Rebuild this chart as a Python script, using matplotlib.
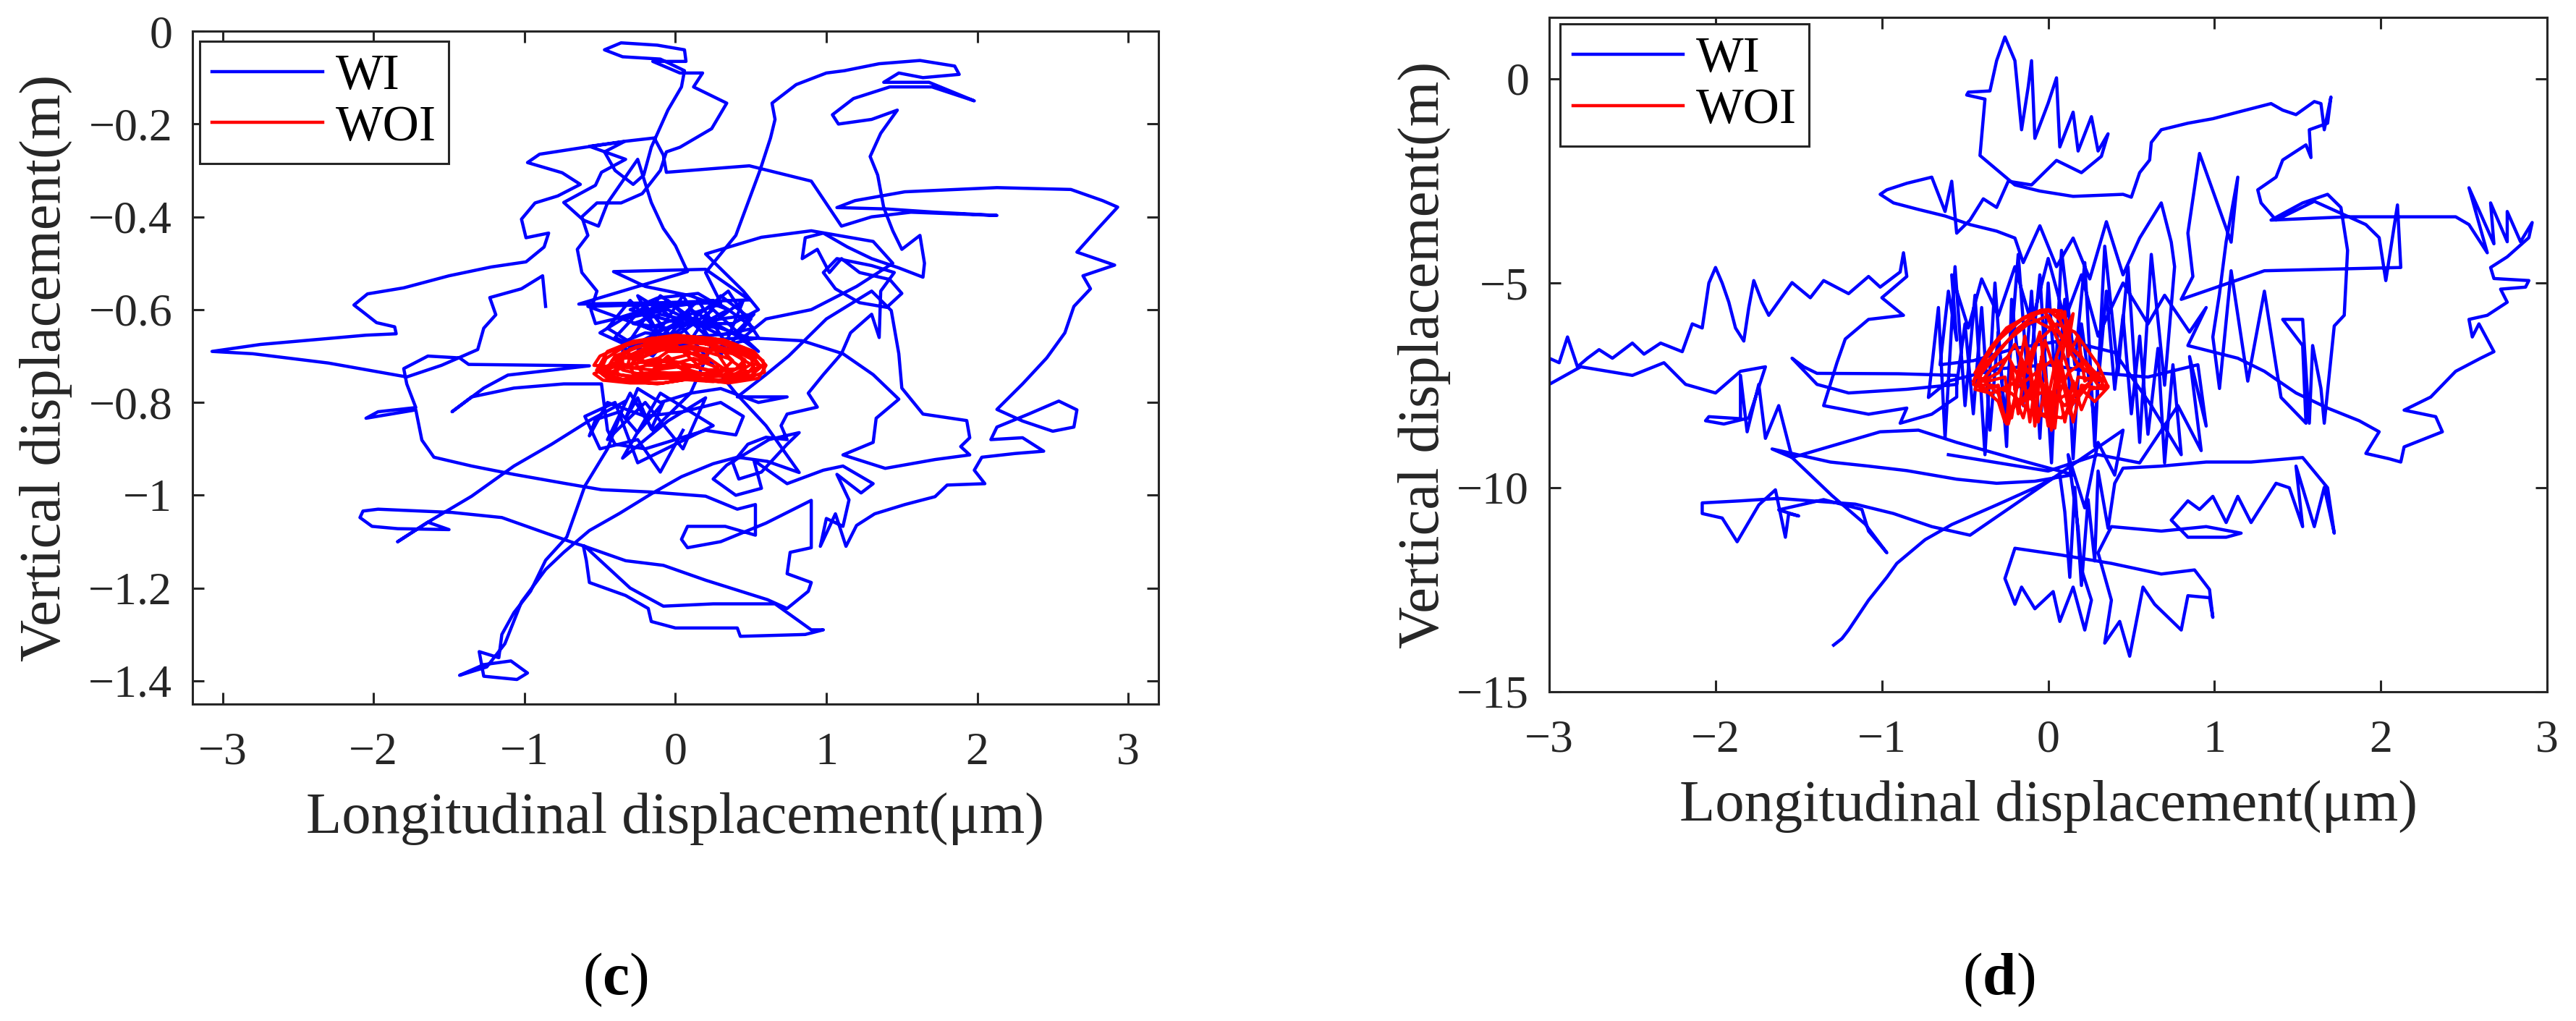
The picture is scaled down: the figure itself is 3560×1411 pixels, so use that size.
import numpy as np
import matplotlib
matplotlib.use('Agg')
import matplotlib.pyplot as plt

plt.rcParams['font.family'] = ['Liberation Serif', 'DejaVu Serif']
plt.rcParams['mathtext.fontset'] = 'custom'
plt.rcParams['mathtext.rm'] = 'Liberation Serif'
plt.rcParams['mathtext.bf'] = 'Liberation Serif:bold'

AX_COLOR = '#262626'

# ---------------- data ----------------
# (c) trajectory with isolator (WI), x in um, y in m
wi_c = np.array([
    (-0.86, -0.593), (-0.88, -0.527), (-1.02, -0.555), (-1.23, -0.574), (-1.19, -0.611), (-1.27, -0.64),
    (-1.31, -0.686), (-1.55, -0.72), (-1.78, -0.745), (-2.30, -0.715), (-2.80, -0.695), (-3.07, -0.69),
    (-2.75, -0.675), (-2.40, -0.665), (-2.05, -0.655), (-1.85, -0.652), (-1.86, -0.637), (-1.98, -0.628),
    (-2.07, -0.605), (-2.13, -0.59), (-2.04, -0.566), (-1.80, -0.553), (-1.50, -0.527), (-1.22, -0.508),
    (-0.99, -0.497), (-0.87, -0.465), (-0.84, -0.435), (-0.99, -0.445), (-1.02, -0.405), (-0.93, -0.37),
    (-0.78, -0.355), (-0.63, -0.33), (-0.75, -0.305), (-0.98, -0.283), (-0.90, -0.265), (-0.60, -0.25),
    (-0.34, -0.238), (-0.47, -0.26), (-0.40, -0.30), (-0.28, -0.33), (-0.21, -0.31), (-0.16, -0.25),
    (-0.05, -0.17), (0.04, -0.12), (0.06, -0.085), (-0.10, -0.06), (-0.35, -0.055), (-0.47, -0.04),
    (-0.36, -0.025), (-0.12, -0.03), (0.06, -0.04), (0.07, -0.065), (-0.15, -0.065), (0.03, -0.09),
    (0.18, -0.09), (0.12, -0.12), (0.34, -0.155), (0.24, -0.21), (0.03, -0.25), (-0.06, -0.26),
    (-0.10, -0.30), (-0.22, -0.35), (-0.36, -0.37), (-0.52, -0.37), (-0.62, -0.40), (-0.58, -0.44),
    (-0.65, -0.47), (-0.62, -0.52), (-0.52, -0.56), (-0.56, -0.60), (-0.53, -0.63), (-0.40, -0.62),
    (-0.20, -0.60), (0.05, -0.59), (0.25, -0.58), (0.35, -0.60), (0.18, -0.63), (-0.10, -0.61),
    (-0.28, -0.63), (-0.05, -0.64), (0.30, -0.62), (0.52, -0.61), (0.40, -0.65), (0.10, -0.66),
    (-0.20, -0.65), (-0.35, -0.67), (-0.10, -0.68), (0.25, -0.665), (0.48, -0.66), (0.30, -0.64),
    (-0.02, -0.625), (-0.30, -0.60), (-0.12, -0.575), (0.15, -0.565), (0.28, -0.59), (0.05, -0.615),
    (-0.18, -0.64), (-0.58, -0.593), (0.30, -0.585), (0.20, -0.52), (0.40, -0.44), (0.48, -0.37),
    (0.56, -0.30), (0.63, -0.23), (0.66, -0.19), (0.64, -0.155), (0.80, -0.115), (1.00, -0.09),
    (1.12, -0.085), (1.35, -0.07), (1.62, -0.063), (1.85, -0.075), (1.88, -0.093), (1.64, -0.10),
    (1.48, -0.09), (1.38, -0.11), (1.68, -0.11), (1.98, -0.15), (1.70, -0.12), (1.42, -0.12),
    (1.18, -0.145), (1.04, -0.18), (1.08, -0.20), (1.30, -0.19), (1.47, -0.17), (1.36, -0.22),
    (1.29, -0.27), (1.34, -0.31), (1.38, -0.38), (1.44, -0.43), (1.50, -0.47), (1.58, -0.45),
    (1.62, -0.44), (1.65, -0.50), (1.64, -0.53), (1.48, -0.51), (1.30, -0.49), (1.14, -0.465),
    (0.98, -0.435), (0.86, -0.445), (0.84, -0.49), (0.94, -0.47), (1.02, -0.52), (1.10, -0.49),
    (1.22, -0.52), (1.42, -0.535), (1.50, -0.565), (1.40, -0.595), (1.22, -0.585), (1.06, -0.555),
    (0.98, -0.52), (1.07, -0.49), (1.30, -0.505), (1.45, -0.52), (1.36, -0.56), (1.35, -0.66),
    (1.30, -0.61), (1.16, -0.65), (1.10, -0.695), (0.98, -0.74), (0.88, -0.78), (0.94, -0.81),
    (0.74, -0.825), (0.70, -0.85), (0.74, -0.88), (0.60, -0.875), (0.48, -0.89), (0.38, -0.93),
    (0.42, -0.965), (0.57, -0.95), (0.74, -0.89), (0.82, -0.865), (0.62, -0.88), (0.34, -0.935),
    (0.25, -0.965), (0.40, -1.00), (0.57, -0.985), (0.52, -0.925), (0.74, -0.975), (0.98, -0.946),
    (1.11, -0.937), (1.31, -0.975), (1.23, -0.995), (1.07, -0.955), (1.15, -1.01), (1.11, -1.067),
    (1.00, -1.05), (0.96, -1.11), (1.06, -1.04), (1.13, -1.11), (1.20, -1.065), (1.32, -1.04),
    (1.52, -1.02), (1.72, -1.003), (1.80, -0.978), (2.05, -0.975), (1.98, -0.946), (2.03, -0.918),
    (2.25, -0.91), (2.44, -0.905), (2.30, -0.876), (2.09, -0.88), (2.13, -0.853), (2.34, -0.825),
    (2.54, -0.797), (2.66, -0.816), (2.64, -0.853), (2.50, -0.862), (2.30, -0.84), (2.13, -0.815),
    (2.30, -0.76), (2.46, -0.704), (2.58, -0.65), (2.64, -0.593), (2.75, -0.555), (2.70, -0.527),
    (2.91, -0.504), (2.66, -0.476), (2.80, -0.425), (2.93, -0.379), (2.83, -0.365), (2.62, -0.341),
    (2.13, -0.337), (1.52, -0.346), (1.19, -0.365), (1.07, -0.38), (1.40, -0.383), (1.72, -0.39),
    (2.13, -0.397), (1.56, -0.39), (1.30, -0.40), (1.10, -0.42), (0.90, -0.323), (0.49, -0.29),
    (0.29, -0.295), (-0.06, -0.304), (-0.08, -0.267), (-0.14, -0.23), (-0.33, -0.237), (-0.57, -0.248),
    (-0.33, -0.276), (-0.49, -0.304), (-0.53, -0.332), (-0.74, -0.369), (-0.61, -0.407), (-0.51, -0.42),
    (-0.45, -0.37), (-0.25, -0.276), (-0.16, -0.369), (-0.08, -0.425), (0.0, -0.462), (0.08, -0.518),
    (-0.64, -0.588), (-0.10, -0.585), (0.49, -0.579), (0.20, -0.513), (-0.41, -0.518), (-0.20, -0.55),
    (0.10, -0.57), (0.35, -0.60), (0.52, -0.64), (0.30, -0.655), (-0.05, -0.60), (-0.35, -0.62),
    (-0.50, -0.65), (-0.30, -0.68), (0.0, -0.63), (0.38, -0.63), (0.55, -0.60), (0.45, -0.56),
    (0.20, -0.48), (0.57, -0.444), (0.90, -0.43), (1.31, -0.453), (1.44, -0.50), (1.20, -0.55),
    (0.90, -0.60), (0.60, -0.62), (0.45, -0.66), (0.84, -0.667), (1.11, -0.695), (1.31, -0.74),
    (1.48, -0.793), (1.33, -0.834), (1.31, -0.886), (1.11, -0.913), (1.39, -0.942), (1.72, -0.923),
    (1.95, -0.913), (1.89, -0.895), (1.95, -0.876), (1.93, -0.839), (1.64, -0.825), (1.50, -0.769),
    (1.48, -0.695), (1.43, -0.602), (1.30, -0.56), (1.00, -0.62), (0.75, -0.70), (0.60, -0.74),
    (0.41, -0.788), (0.74, -0.788), (0.55, -0.80), (0.30, -0.77), (0.10, -0.78), (-0.10, -0.80),
    (-0.25, -0.77), (-0.33, -0.834), (-0.25, -0.79), (-0.16, -0.857), (-0.08, -0.80), (-0.25, -0.865),
    (-0.37, -0.82), (-0.53, -0.837), (-0.57, -0.872), (-0.45, -0.80), (-0.20, -0.83), (0.05, -0.82),
    (0.30, -0.80), (0.45, -0.83), (0.40, -0.87), (0.20, -0.86), (0.00, -0.88), (-0.20, -0.90),
    (-0.40, -0.89), (-0.45, -0.86), (-0.49, -0.76), (-0.74, -0.76), (-1.07, -0.769), (-1.35, -0.788),
    (-1.48, -0.82), (-1.27, -0.769), (-1.11, -0.741), (-0.57, -0.721), (-1.37, -0.718), (-1.43, -0.704),
    (-1.64, -0.70), (-1.80, -0.727), (-1.78, -0.76), (-1.72, -0.811), (-1.97, -0.82), (-2.05, -0.834),
    (-1.72, -0.816), (-1.68, -0.881), (-1.60, -0.918), (-1.35, -0.937), (-1.07, -0.955), (-0.74, -0.974),
    (-0.49, -0.988), (-0.16, -0.993), (0.20, -1.002), (0.41, -1.03), (0.53, -1.02), (0.53, -1.086),
    (0.33, -1.067), (0.08, -1.067), (0.04, -1.095), (0.08, -1.113), (0.30, -1.10), (0.60, -1.06),
    (0.90, -1.011), (0.90, -1.113), (0.76, -1.123), (0.74, -1.169), (0.90, -1.188), (0.88, -1.207),
    (0.74, -1.244), (0.61, -1.225), (0.20, -1.183), (-0.08, -1.151), (-0.33, -1.141), (-0.61, -1.109),
    (-0.59, -1.141), (-0.57, -1.188), (-0.33, -1.216), (-0.18, -1.244), (-0.16, -1.272), (0.0, -1.286),
    (0.41, -1.286), (0.43, -1.304), (0.86, -1.30), (0.98, -1.29), (0.90, -1.29), (0.66, -1.234),
    (0.25, -1.234), (-0.08, -1.239), (-0.30, -1.20), (-0.60, -1.11), (-0.66, -1.104), (-0.82, -1.086),
    (-1.15, -1.048), (-1.48, -1.037), (-1.97, -1.03), (-2.07, -1.034), (-2.09, -1.048), (-2.01, -1.067),
    (-1.84, -1.072), (-1.50, -1.074), (-1.64, -1.058), (-1.84, -1.10), (-1.64, -1.058), (-1.35, -1.002),
    (-1.07, -0.937), (-0.82, -0.89), (-0.57, -0.839), (-0.33, -0.797), (-0.45, -0.90), (-0.60, -0.98),
    (-0.72, -1.09), (-0.86, -1.14), (-0.96, -1.207), (-1.07, -1.253), (-1.15, -1.30), (-1.17, -1.35),
    (-1.30, -1.337), (-1.27, -1.39), (-1.05, -1.397), (-0.98, -1.383), (-1.09, -1.357), (-1.27, -1.365),
    (-1.43, -1.388), (-1.25, -1.37), (-1.13, -1.32), (-1.02, -1.23), (-0.86, -1.16), (-0.74, -1.123),
    (-0.57, -1.076), (-0.37, -1.039), (-0.16, -0.997), (0.04, -0.96), (0.25, -0.932), (0.41, -0.918),
    (0.61, -0.927), (0.82, -0.951), (0.60, -0.85), (0.40, -0.78), (0.20, -0.70), (0.0, -0.62),
    (-0.25, -0.57), (-0.10, -0.66), (0.15, -0.58), (0.35, -0.68), (0.50, -0.62), (0.30, -0.57),
    (0.05, -0.69), (-0.20, -0.59), (-0.40, -0.66), (-0.15, -0.70), (0.10, -0.60), (0.40, -0.655),
    (0.55, -0.69), (0.25, -0.60), (-0.05, -0.67), (-0.30, -0.58), (-0.45, -0.64), (-0.20, -0.69),
    (0.05, -0.57), (0.30, -0.70), (0.45, -0.58), (0.20, -0.64), (-0.10, -0.57), (-0.35, -0.69),
    (0.0, -0.65), (0.35, -0.56), (0.55, -0.66), (0.15, -0.69), (-0.25, -0.63), (-0.05, -0.58),
    (0.25, -0.67), (0.10, -0.78), (-0.15, -0.86), (-0.30, -0.78), (-0.45, -0.88), (-0.20, -0.80),
    (0.05, -0.90), (0.20, -0.79), (-0.05, -0.84), (-0.35, -0.92), (-0.10, -0.78), (0.25, -0.85),
    (-0.25, -0.93), (-0.40, -0.80), (-0.60, -0.83), (-0.50, -0.90), (-0.25, -0.88), (-0.10, -0.95),
    (0.05, -0.86),
])

# (c) trajectory without isolator (WOI)
woi_c = np.array([
    (-0.52, -0.73), (-0.45, -0.69), (-0.28, -0.668), (0.0, -0.655), (0.25, -0.662), (0.45, -0.682),
    (0.58, -0.71), (0.59, -0.735), (0.45, -0.75), (0.20, -0.752), (0.0, -0.742), (-0.25, -0.755),
    (-0.45, -0.748), (-0.52, -0.73), (-0.40, -0.715), (-0.30, -0.685), (-0.10, -0.665), (0.12, -0.66),
    (0.35, -0.672), (0.50, -0.70), (0.52, -0.73), (0.35, -0.745), (0.10, -0.738), (-0.15, -0.748),
    (-0.38, -0.74), (-0.40, -0.715), (-0.30, -0.72), (-0.22, -0.69), (-0.05, -0.672), (0.15, -0.668),
    (0.30, -0.685), (0.38, -0.71), (0.30, -0.735), (0.10, -0.74), (-0.10, -0.735), (-0.28, -0.738),
    (-0.30, -0.72), (-0.48, -0.74), (-0.40, -0.70), (-0.20, -0.675), (0.05, -0.662), (0.30, -0.668),
    (0.48, -0.69), (0.56, -0.72), (0.50, -0.745), (0.30, -0.755), (0.08, -0.75), (-0.12, -0.76),
    (-0.35, -0.752), (-0.48, -0.74), (-0.35, -0.705), (-0.18, -0.68), (0.05, -0.67), (0.25, -0.675),
    (0.42, -0.695), (0.46, -0.72), (0.32, -0.74), (0.05, -0.735), (-0.20, -0.742), (-0.35, -0.73),
    (-0.35, -0.705), (-0.20, -0.70), (0.0, -0.675), (0.15, -0.72), (0.25, -0.68), (0.35, -0.73),
    (0.10, -0.745), (-0.05, -0.70), (-0.20, -0.745), (-0.30, -0.70), (-0.10, -0.68), (0.20, -0.70),
    (0.40, -0.745), (0.55, -0.725), (0.52, -0.70), (0.30, -0.672), (0.0, -0.66), (-0.30, -0.672),
    (-0.46, -0.705), (-0.50, -0.735), (-0.35, -0.75), (-0.05, -0.748), (0.25, -0.755), (0.50, -0.742),
    (0.58, -0.72), (0.48, -0.735), (0.35, -0.705), (0.15, -0.685), (-0.10, -0.685), (-0.30, -0.70),
    (-0.32, -0.725), (-0.15, -0.73), (0.10, -0.72), (0.30, -0.74), (0.45, -0.75), (0.54, -0.712),
    (0.40, -0.69), (0.18, -0.672), (-0.06, -0.668), (-0.26, -0.68), (-0.42, -0.71), (-0.44, -0.735),
    (-0.30, -0.745), (-0.08, -0.74), (0.18, -0.748), (0.40, -0.738), (0.50, -0.718), (0.38, -0.695),
    (0.10, -0.678), (-0.15, -0.69), (-0.25, -0.71), (-0.10, -0.725), (0.12, -0.705), (0.28, -0.725),
    (0.20, -0.74), (-0.02, -0.72), (-0.18, -0.72), (-0.05, -0.69), (0.08, -0.69), (0.22, -0.712),
    (0.05, -0.728), (-0.12, -0.705), (-0.38, -0.725), (-0.54, -0.72), (-0.50, -0.70), (-0.36, -0.68),
    (-0.16, -0.662), (0.08, -0.658), (0.32, -0.665), (0.52, -0.69), (0.60, -0.72), (0.55, -0.748),
    (0.35, -0.758), (0.12, -0.748), (-0.08, -0.758), (-0.30, -0.758), (-0.48, -0.752), (-0.54, -0.738),
    (-0.42, -0.722), (-0.25, -0.725), (-0.10, -0.712), (0.05, -0.70), (0.20, -0.685), (0.36, -0.69),
    (0.46, -0.708), (0.40, -0.728), (0.22, -0.73), (0.0, -0.712), (-0.20, -0.712), (-0.34, -0.69),
])

# (d) trajectory with isolator (WI)
wi_d = np.array([
    (-1.29, -13.86), (-1.24, -13.70), (-1.20, -13.49), (-1.08, -12.76), (-0.97, -12.2), (-0.91, -11.86),
    (-0.74, -11.28), (-0.58, -10.91), (-0.31, -10.43), (-0.08, -10.01), (0.07, -9.69), (0.10, -10.6),
    (0.13, -12.2), (0.16, -10.0), (0.20, -12.4), (0.24, -10.3), (0.28, -11.8), (0.30, -9.6),
    (0.36, -11.0), (0.40, -9.9), (0.45, -9.53), (0.68, -9.48), (0.95, -9.38), (1.22, -9.38),
    (1.53, -9.27), (1.68, -10.01), (1.72, -11.12), (1.66, -10.0), (1.60, -10.96), (1.49, -9.48),
    (1.53, -10.96), (1.45, -10.01), (1.37, -9.90), (1.22, -10.86), (1.14, -10.22), (1.07, -10.86),
    (0.99, -10.22), (0.91, -10.54), (0.84, -10.33), (0.74, -10.80), (0.84, -11.22), (1.07, -11.22),
    (1.16, -11.12), (0.95, -10.96), (0.68, -11.07), (0.38, -10.96), (0.30, -11.6), (0.38, -12.76),
    (0.34, -13.81), (0.43, -13.28), (0.49, -14.13), (0.57, -12.44), (0.64, -12.86), (0.80, -13.49),
    (0.84, -12.65), (0.97, -12.70), (0.99, -13.18), (0.97, -12.5), (0.88, -12.02), (0.68, -12.12),
    (0.38, -11.86), (0.07, -11.65), (-0.20, -11.49), (-0.26, -12.23), (-0.20, -12.86), (-0.16, -12.44),
    (-0.08, -12.97), (0.03, -12.55), (0.07, -13.28), (0.15, -12.44), (0.22, -13.49), (0.26, -12.76),
    (0.20, -12.0), (0.18, -11.0), (0.12, -9.2), (0.22, -10.5), (0.30, -8.9), (0.40, -9.7),
    (0.45, -8.6), (-0.47, -11.17), (-0.70, -10.96), (-0.93, -10.64), (-1.16, -10.41), (-1.62, -10.27),
    (-1.85, -10.33), (-2.08, -10.38), (-2.08, -10.64), (-1.96, -10.75), (-1.87, -11.33), (-1.74, -10.43),
    (-1.64, -10.06), (-1.58, -11.22), (-1.56, -10.64), (-1.50, -10.70), (-1.62, -10.55), (-1.35, -10.30),
    (-1.12, -10.54), (-1.08, -11.07), (-0.97, -11.60), (-1.10, -10.9), (-1.30, -10.2), (-1.54, -9.27),
    (-1.66, -9.06), (-1.31, -9.38), (-1.08, -9.48), (-0.85, -9.59), (-0.55, -9.80), (-0.31, -9.90),
    (-0.08, -9.85), (0.15, -9.69), (-0.20, -9.3), (-0.55, -8.9), (-0.78, -8.6), (-1.01, -8.64),
    (-1.27, -8.95), (-1.54, -9.27), (-1.62, -8.0), (-1.70, -8.80), (-1.74, -7.48), (-1.81, -8.64),
    (-1.85, -7.26), (-1.85, -8.32), (-2.04, -8.27), (-2.06, -8.37), (-1.95, -8.45), (-1.80, -8.3),
    (-1.70, -7.05), (-1.85, -7.16), (-2.0, -7.69), (-2.18, -7.48), (-2.31, -6.95), (-2.50, -7.26),
    (-2.81, -7.05), (-3.0, -7.48), (-3.0, -6.84), (-2.94, -6.95), (-2.89, -6.32), (-2.83, -7.05),
    (-2.77, -6.84), (-2.70, -6.63), (-2.62, -6.84), (-2.50, -6.47), (-2.43, -6.74), (-2.33, -6.47),
    (-2.20, -6.68), (-2.14, -6.0), (-2.08, -6.10), (-2.04, -5.0), (-2.00, -4.62), (-1.96, -5.0),
    (-1.92, -5.47), (-1.88, -6.10), (-1.83, -6.42), (-1.80, -5.6), (-1.77, -4.94), (-1.72, -5.47),
    (-1.68, -5.79), (-1.54, -4.99), (-1.43, -5.36), (-1.35, -4.94), (-1.20, -5.26), (-1.08, -4.84),
    (-1.01, -5.10), (-0.89, -4.73), (-0.87, -4.26), (-0.85, -4.84), (-1.00, -5.36), (-0.87, -5.79),
    (-1.08, -5.89), (-1.22, -6.37), (-1.27, -6.95), (-1.31, -7.48), (-1.35, -8.0), (-1.08, -8.21),
    (-0.85, -8.06), (-0.89, -8.43), (-0.70, -8.21), (-0.55, -7.79), (-0.55, -7.26), (-0.90, -7.22),
    (-1.39, -7.21), (-1.47, -7.05), (-1.54, -6.84), (-1.39, -7.48), (-1.20, -7.69), (-0.85, -7.60),
    (-0.55, -7.48), (-0.50, -6.0), (-0.45, -8.2), (-0.40, -5.6), (-0.35, -8.6), (-0.30, -6.2),
    (-0.25, -9.0), (-0.22, -5.4), (-0.15, -8.0), (-0.10, -5.2), (-0.05, -8.8), (0.0, -5.0),
    (0.05, -7.8), (0.10, -5.4), (0.15, -9.3), (0.20, -6.0), (0.28, -8.4), (0.35, -5.2),
    (0.40, -7.6), (0.45, -5.8), (0.50, -8.2), (0.55, -6.3), (0.60, -8.7), (0.66, -6.6),
    (0.70, -9.4), (0.75, -7.0), (0.80, -9.2), (0.62, -8.0), (0.40, -6.7), (0.10, -6.4),
    (-0.20, -6.6), (-0.45, -6.9), (-0.65, -7.0), (-0.60, -5.2), (-0.55, -6.4), (-0.58, -4.8),
    (-0.48, -6.1), (-0.40, -4.9), (-0.30, -5.8), (-0.20, -4.6), (-0.10, -6.0), (0.0, -4.4),
    (0.10, -5.9), (0.20, -4.8), (0.30, -6.3), (0.45, -5.0), (0.60, -6.0), (0.70, -5.3),
    (0.85, -6.2), (0.95, -5.6), (0.84, -6.53), (1.14, -6.84), (1.30, -7.16), (1.49, -7.69),
    (1.68, -8.06), (1.87, -8.37), (1.99, -8.64), (1.91, -9.17), (2.05, -9.30), (2.12, -9.38),
    (2.14, -9.01), (2.37, -8.64), (2.33, -8.27), (2.14, -8.11), (2.30, -7.79), (2.45, -7.16),
    (2.60, -6.84), (2.68, -6.68), (2.59, -6.0), (2.55, -6.32), (2.53, -5.89), (2.64, -5.79),
    (2.76, -5.47), (2.72, -5.15), (2.87, -5.10), (2.89, -4.94), (2.68, -4.89), (2.66, -4.62),
    (2.76, -4.36), (2.89, -3.89), (2.91, -3.52), (2.84, -3.99), (2.76, -3.25), (2.76, -3.99),
    (2.66, -3.04), (2.68, -4.04), (2.53, -2.67), (2.64, -4.26), (2.53, -3.57), (2.45, -3.38),
    (2.10, -3.38), (1.80, -3.38), (1.34, -3.46), (1.53, -3.04), (1.68, -2.83), (1.76, -3.15),
    (1.80, -4.20), (1.78, -5.79), (1.72, -6.05), (1.66, -8.43), (1.64, -7.58), (1.59, -6.53),
    (1.57, -8.43), (1.53, -5.89), (1.41, -5.89), (1.53, -6.53), (1.55, -8.43), (1.40, -7.8),
    (1.30, -5.2), (1.20, -7.4), (1.10, -4.7), (1.03, -7.58), (0.99, -6.32), (1.03, -5.26),
    (1.07, -3.99), (1.14, -2.41), (1.10, -4.0), (0.91, -1.83), (0.84, -3.78), (0.87, -4.84),
    (0.80, -5.4), (1.30, -4.7), (2.12, -4.62), (2.10, -3.09), (2.03, -4.94), (1.99, -3.89),
    (1.91, -3.57), (1.60, -3.0), (1.37, -3.46), (1.28, -3.04), (1.26, -2.72), (1.37, -2.41),
    (1.41, -1.99), (1.55, -1.62), (1.58, -1.93), (1.57, -1.25), (1.68, -1.09), (1.70, -0.45),
    (1.66, -1.25), (1.64, -0.61), (1.60, -0.56), (1.49, -0.88), (1.41, -0.77), (1.34, -0.61),
    (1.14, -0.82), (0.99, -0.98), (0.84, -1.09), (0.68, -1.25), (0.62, -1.56), (0.61, -1.99),
    (0.55, -2.3), (0.50, -2.9), (0.45, -2.83), (0.15, -2.88), (-0.05, -2.75), (-0.20, -2.6),
    (-0.41, -1.88), (-0.38, -0.5), (-0.49, -0.40), (-0.48, -0.33), (-0.35, -0.30), (-0.31, 0.44),
    (-0.26, 1.02), (-0.20, 0.44), (-0.16, -1.25), (-0.12, -0.2), (-0.10, 0.44), (-0.08, -1.46),
    (0.0, -0.6), (0.05, 0.02), (0.07, -1.67), (0.15, -0.82), (0.18, -1.77), (0.26, -0.93),
    (0.30, -1.77), (0.36, -1.35), (0.32, -1.9), (0.20, -2.3), (0.05, -2.0), (-0.10, -2.6),
    (-0.24, -2.51), (-0.31, -3.15), (-0.39, -2.94), (-0.47, -3.46), (-0.55, -3.78), (-0.58, -2.51),
    (-0.62, -3.25), (-0.70, -2.41), (-0.85, -2.56), (-0.97, -2.72), (-1.01, -2.83), (-0.93, -3.04),
    (-0.78, -3.20), (-0.62, -3.36), (-0.47, -3.57), (-0.31, -3.73), (-0.20, -3.9), (-0.15, -4.5),
    (-0.05, -3.6), (0.05, -4.6), (0.15, -3.9), (0.25, -4.9), (0.35, -3.5), (0.45, -4.8),
    (0.55, -3.9), (0.68, -3.04), (0.74, -4.0), (0.76, -4.6), (0.70, -7.5), (0.62, -4.3),
    (0.55, -8.9), (0.48, -4.6), (0.42, -7.2), (0.34, -4.1), (0.28, -9.0), (0.22, -4.5),
    (0.16, -7.0), (0.08, -4.2), (0.02, -9.4), (-0.05, -4.8), (-0.12, -7.6), (-0.18, -4.3),
    (-0.26, -8.4), (-0.32, -5.0), (-0.38, -9.2), (-0.44, -5.3), (-0.50, -8.0), (-0.56, -4.6),
    (-0.62, -8.8), (-0.66, -5.6), (-0.72, -7.8), (-0.60, -7.4), (-0.30, -7.1), (0.0, -7.0),
    (0.30, -7.2), (0.60, -7.3), (0.90, -7.0), (0.95, -8.5), (0.85, -6.8), (0.92, -9.1),
    (0.78, -8.0), (0.55, -9.4), (0.30, -9.2), (0.0, -9.6), (-0.30, -9.4), (-0.60, -9.2),
])

# (d) trajectory without isolator (WOI)
woi_d = np.array([
    (-0.45, -7.40), (-0.40, -7.0), (-0.30, -6.4), (-0.15, -5.85), (-0.05, -5.68), (0.05, -5.70),
    (0.10, -6.2), (0.15, -5.75), (0.12, -6.5), (0.20, -6.8), (0.25, -7.2), (0.30, -7.5),
    (0.36, -7.52), (0.25, -7.6), (0.20, -8.1), (0.15, -7.4), (0.10, -8.4), (0.05, -7.3),
    (0.02, -8.6), (-0.02, -7.6), (-0.06, -8.4), (-0.10, -7.5), (-0.15, -8.3), (-0.20, -7.8),
    (-0.24, -8.45), (-0.28, -8.1), (-0.30, -7.5), (-0.38, -7.6), (-0.45, -7.48), (-0.42, -7.1),
    (-0.35, -6.6), (-0.25, -6.1), (-0.10, -5.75), (0.0, -5.65), (0.07, -5.9), (0.10, -5.70),
    (0.12, -6.8), (0.18, -6.3), (0.22, -7.4), (0.30, -7.2), (0.34, -7.6), (0.20, -7.5),
    (0.15, -8.4), (0.08, -7.0), (0.04, -8.55), (-0.04, -6.8), (-0.08, -8.5), (-0.12, -6.6),
    (-0.18, -8.2), (-0.22, -7.0), (-0.25, -8.45), (-0.30, -7.7), (-0.40, -7.35), (-0.44, -7.2),
    (-0.38, -6.8), (-0.28, -6.3), (-0.16, -5.9), (-0.04, -5.66), (0.08, -5.68), (0.12, -6.0),
    (0.05, -6.8), (0.0, -7.8), (-0.05, -6.2), (-0.12, -7.2), (-0.20, -6.5), (-0.30, -7.2),
    (-0.42, -7.45), (-0.30, -7.9), (-0.26, -8.4), (-0.20, -8.0), (0.0, -7.6), (0.10, -8.0),
    (0.20, -7.6), (0.28, -7.9), (0.36, -7.55), (0.30, -7.0), (0.16, -6.2), (0.05, -6.0),
    (-0.08, -6.5), (-0.18, -7.4), (-0.34, -7.7), (-0.44, -7.6), (-0.40, -7.2), (-0.30, -6.7),
    (-0.18, -6.1), (-0.06, -5.72), (0.04, -5.66), (0.11, -5.9), (0.14, -6.6), (0.24, -7.0),
    (0.33, -7.4), (0.18, -7.3), (0.13, -8.2), (0.06, -6.9), (0.0, -8.5), (-0.06, -7.0),
    (-0.11, -8.4), (-0.16, -6.9), (-0.22, -8.3), (-0.26, -7.3), (-0.36, -7.4), (-0.43, -7.3),
    (-0.36, -6.9), (-0.24, -6.4), (-0.12, -6.0), (0.0, -5.8), (0.10, -6.4), (0.06, -7.4),
    (-0.02, -6.4), (-0.08, -7.8), (-0.14, -6.3), (-0.20, -7.6), (0.02, -6.9), (0.14, -7.8),
    (0.26, -7.4), (0.08, -8.3), (-0.04, -8.2), (-0.14, -7.6), (-0.24, -6.8), (-0.34, -7.1),
    (-0.42, -7.5), (-0.34, -7.5), (-0.22, -7.7), (-0.12, -8.1), (0.0, -8.3), (0.12, -7.2),
    (0.22, -6.9), (0.30, -7.35), (0.18, -7.0), (0.06, -6.2), (-0.04, -6.0), (-0.12, -5.8),
    (-0.02, -5.7), (0.08, -6.6), (0.16, -7.6), (0.04, -7.9), (-0.06, -7.3), (-0.16, -7.9),
])

x_ticks = [-3, -2, -1, 0, 1, 2, 3]
c_yticks = [0, -0.2, -0.4, -0.6, -0.8, -1.0, -1.2, -1.4]
d_yticks = [0, -5, -10, -15]
series_labels = ['WI', 'WOI']
x_label = 'Longitudinal displacement(\u03bcm)'
y_label = 'Vertical displacement(m)'


def tick_text(v):
    return '{:g}'.format(v).replace('-', '\u2212')


def draw_panel(ax, wi, woi, xlim, ylim, yticks, legend_anchor, ylabelpad):
    ax.plot(wi[:, 0], wi[:, 1], color='#0000ff', lw=1.6, label=series_labels[0])
    ax.plot(woi[:, 0], woi[:, 1], color='#ff0000', lw=1.6, label=series_labels[1])

    ax.set_xlim(xlim)
    ax.set_ylim(ylim)
    ax.set_xticks(x_ticks, [tick_text(v) for v in x_ticks])
    ax.set_yticks(yticks, [tick_text(v) for v in yticks])
    ax.tick_params(direction='in', length=5.8, width=1.1, color=AX_COLOR,
                   labelcolor=AX_COLOR, labelsize=23, top=True, right=True)
    ax.tick_params(axis='x', pad=14)
    ax.tick_params(axis='y', pad=10)
    for sp in ax.spines.values():
        sp.set_color(AX_COLOR)
        sp.set_linewidth(1.1)

    ax.set_xlabel(x_label, fontsize=29, color=AX_COLOR, labelpad=9)
    ax.set_ylabel(y_label, fontsize=29, color=AX_COLOR, labelpad=ylabelpad)

    leg = ax.legend(loc='upper left', bbox_to_anchor=legend_anchor, borderaxespad=0,
                    fontsize=25, fancybox=False, handlelength=2.2, handletextpad=0.25,
                    labelspacing=0.1, borderpad=0.25)
    leg.get_frame().set_edgecolor(AX_COLOR)
    leg.get_frame().set_linewidth(1.1)
    leg.get_frame().set_alpha(1)


fig = plt.figure(figsize=(17.8, 7.055), dpi=200)
ax_c = fig.add_axes([0.0747, 0.3104, 0.375, 0.659])
ax_d = fig.add_axes([0.6014, 0.3225, 0.3874, 0.6605])

draw_panel(ax_c, wi_c, woi_c, (-3.2, 3.2), (-1.45, 0), c_yticks, (0.0075, 0.985), 8)
draw_panel(ax_d, wi_d, woi_d, (-3, 3), (-15, 1.5), d_yticks, (0.011, 0.990), 3)

fig.text(0.239, 0.040, r'($\mathbf{c}$)', fontsize=30, ha='center', va='center')
fig.text(0.776, 0.040, r'($\mathbf{d}$)', fontsize=30, ha='center', va='center')

fig.savefig('out.png', dpi=200)
